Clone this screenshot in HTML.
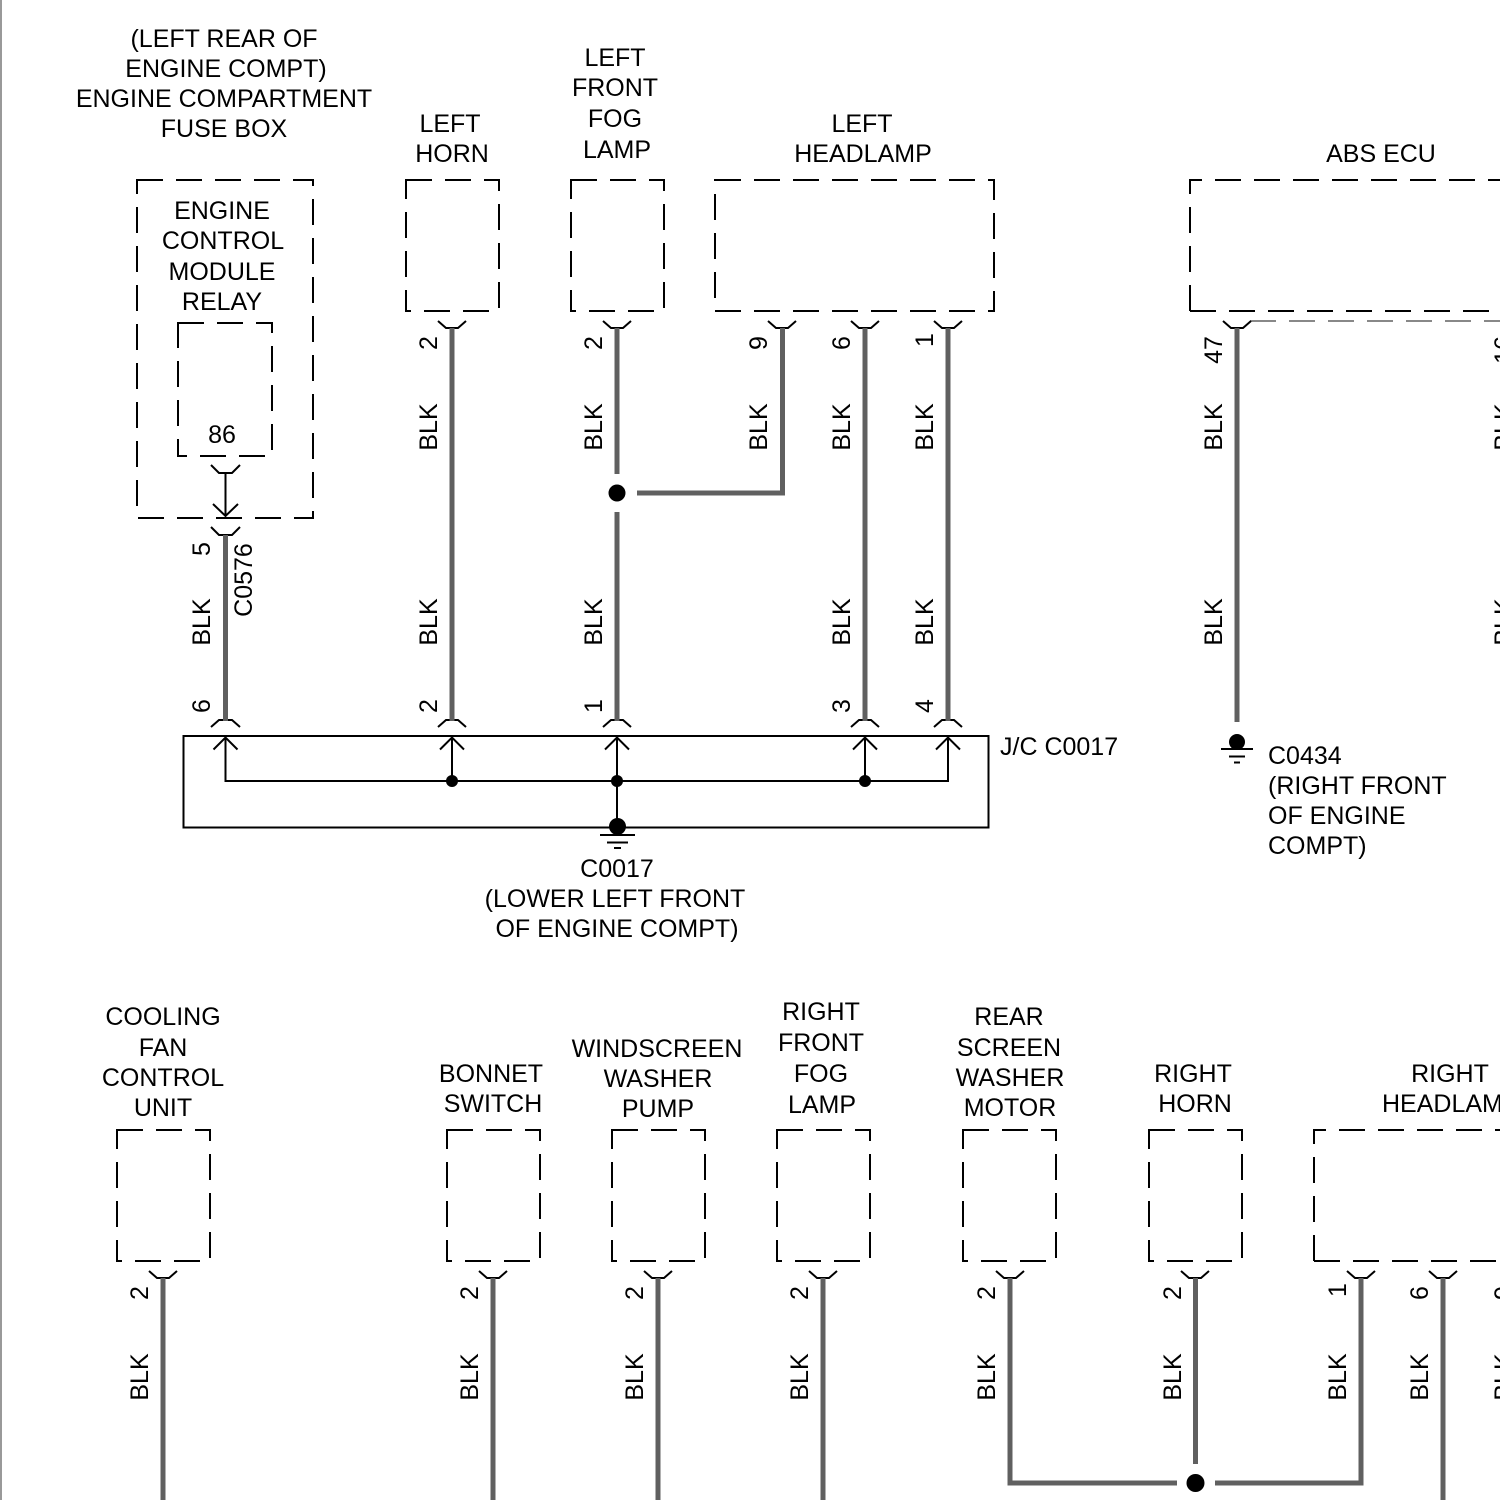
<!DOCTYPE html>
<html>
<head>
<meta charset="utf-8">
<style>
html,body{margin:0;padding:0;background:#fff;}
svg{display:block;}
text{font-family:"Liberation Sans",Arial,sans-serif;font-size:25px;fill:#000;text-anchor:middle;}
.l{text-anchor:start;}
.box{fill:none;stroke:#000;stroke-width:2;stroke-dasharray:26 13;}
.cup{fill:none;stroke:#000;stroke-width:2;}
.w{fill:none;stroke:#606060;stroke-width:5;}
.t{fill:none;stroke:#000;stroke-width:2;}
</style>
</head>
<body>
<svg width="1500" height="1500" viewBox="0 0 1500 1500" xmlns="http://www.w3.org/2000/svg">
<rect x="0" y="0" width="1500" height="1500" fill="#fff"/>
<line x1="1" y1="0" x2="1" y2="1500" stroke="#999" stroke-width="2"/>

<!-- ===== TOP ROW LABELS ===== -->
<text x="224" y="47">(LEFT REAR OF</text>
<text x="226" y="77">ENGINE COMPT)</text>
<text x="224" y="107">ENGINE COMPARTMENT</text>
<text x="224" y="137">FUSE BOX</text>

<text x="222" y="219">ENGINE</text>
<text x="223" y="249">CONTROL</text>
<text x="222" y="280">MODULE</text>
<text x="222" y="310">RELAY</text>
<text x="222" y="443">86</text>

<text x="450" y="132">LEFT</text>
<text x="452" y="162">HORN</text>

<text x="615" y="66">LEFT</text>
<text x="615" y="96">FRONT</text>
<text x="615" y="127">FOG</text>
<text x="617" y="158">LAMP</text>

<text x="862" y="132">LEFT</text>
<text x="863" y="162">HEADLAMP</text>

<text x="1381" y="162">ABS ECU</text>

<!-- boxes top -->
<path class="box" d="M137 180 H313 V518 H137 Z"/>
<path class="box" d="M178 323 H272 V456 H178 Z"/>
<path class="box" d="M406 180 H499 V311 H406 Z"/>
<path class="box" d="M571 180 H664 V311 H571 Z"/>
<path class="box" d="M715 180 H994 V311 H715 Z"/>
<path class="box" d="M1190 311 V180 H1510"/>
<path class="box" d="M1190 311 H1510"/>
<line x1="1250" y1="321" x2="1510" y2="321" stroke="#888" stroke-width="2" stroke-dasharray="26 13"/>

<!-- relay cups and arrow -->
<polyline class="cup" points="211,465 219,473 232,473 240,465"/>
<line class="t" x1="225.5" y1="473" x2="225.5" y2="515"/>
<polyline class="t" points="213,504 225.5,516 238,504"/>
<polyline class="cup" points="211,527 219,535 232,535 240,527"/>

<!-- top cups -->
<polyline class="cup" points="438,321 446,328 458,328 466,321"/>
<polyline class="cup" points="603,321 611,328 623,328 631,321"/>
<polyline class="cup" points="768,321 776,328 788,328 796,321"/>
<polyline class="cup" points="851,321 859,328 871,328 879,321"/>
<polyline class="cup" points="934,321 942,328 954,328 962,321"/>
<polyline class="cup" points="1223,321 1231,328 1243,328 1251,321"/>

<!-- J/C caps -->
<polyline class="cup" points="211,727 219,720 232,720 240,727"/>
<polyline class="cup" points="438,727 446,720 458,720 466,727"/>
<polyline class="cup" points="603,727 611,720 623,720 631,727"/>
<polyline class="cup" points="851,727 859,720 871,720 879,727"/>
<polyline class="cup" points="934,727 942,720 954,720 962,727"/>

<!-- top wires -->
<line class="w" x1="225.5" y1="535" x2="225.5" y2="721"/>
<line class="w" x1="452" y1="328" x2="452" y2="721"/>
<line class="w" x1="617" y1="328" x2="617" y2="474"/>
<line class="w" x1="617" y1="512" x2="617" y2="721"/>
<polyline class="w" points="637,493 782.5,493 782.5,328"/>
<line class="w" x1="865" y1="328" x2="865" y2="721"/>
<line class="w" x1="948" y1="328" x2="948" y2="721"/>
<line class="w" x1="1237" y1="328" x2="1237" y2="722"/>
<circle cx="617" cy="493" r="8.5" fill="#000"/>

<!-- J/C box -->
<rect x="183.5" y="736" width="805" height="91.5" fill="none" stroke="#000" stroke-width="2"/>
<polyline class="t" points="225.5,738 225.5,781 948,781 948,738"/>
<line class="t" x1="452" y1="738" x2="452" y2="781"/>
<line class="t" x1="617" y1="738" x2="617" y2="826"/>
<line class="t" x1="865" y1="738" x2="865" y2="781"/>
<polyline class="t" points="213.5,749.5 225.5,737.5 237.5,749.5"/>
<polyline class="t" points="440,749.5 452,737.5 464,749.5"/>
<polyline class="t" points="605,749.5 617,737.5 629,749.5"/>
<polyline class="t" points="853,749.5 865,737.5 877,749.5"/>
<polyline class="t" points="936,749.5 948,737.5 960,749.5"/>
<circle cx="452" cy="781" r="6" fill="#000"/>
<circle cx="617" cy="781" r="6" fill="#000"/>
<circle cx="865" cy="781" r="6" fill="#000"/>
<circle cx="617.5" cy="826.5" r="8.5" fill="#000"/>
<line x1="600" y1="835" x2="635" y2="835" stroke="#000" stroke-width="2"/>
<line x1="607" y1="842.5" x2="628" y2="842.5" stroke="#000" stroke-width="2"/>
<line x1="614" y1="848" x2="621" y2="848" stroke="#000" stroke-width="2"/>
<text class="l" x="1000" y="755">J/C C0017</text>
<text x="617" y="877">C0017</text>
<text x="615" y="907">(LOWER LEFT FRONT</text>
<text x="617" y="937">OF ENGINE COMPT)</text>

<!-- ABS ground -->
<circle cx="1237" cy="742" r="8" fill="#000"/>
<line x1="1221" y1="749" x2="1253" y2="749" stroke="#000" stroke-width="2"/>
<line x1="1229" y1="756.5" x2="1245" y2="756.5" stroke="#000" stroke-width="2"/>
<line x1="1234" y1="762.5" x2="1240" y2="762.5" stroke="#000" stroke-width="2"/>
<text class="l" x="1268" y="764">C0434</text>
<text class="l" x="1268" y="794">(RIGHT FRONT</text>
<text class="l" x="1268" y="824">OF ENGINE</text>
<text class="l" x="1268" y="854">COMPT)</text>

<!-- top rotated labels -->
<g transform="translate(201,549) rotate(-90)"><text y="9">5</text></g>
<g transform="translate(243,580) rotate(-90)"><text y="9">C0576</text></g>
<g transform="translate(201,622) rotate(-90)"><text y="9">BLK</text></g>
<g transform="translate(201,706) rotate(-90)"><text y="9">6</text></g>

<g transform="translate(428,343) rotate(-90)"><text y="9">2</text></g>
<g transform="translate(428,427) rotate(-90)"><text y="9">BLK</text></g>
<g transform="translate(428,622) rotate(-90)"><text y="9">BLK</text></g>
<g transform="translate(428,706) rotate(-90)"><text y="9">2</text></g>

<g transform="translate(593,343) rotate(-90)"><text y="9">2</text></g>
<g transform="translate(593,427) rotate(-90)"><text y="9">BLK</text></g>
<g transform="translate(593,622) rotate(-90)"><text y="9">BLK</text></g>
<g transform="translate(593,706) rotate(-90)"><text y="9">1</text></g>

<g transform="translate(758,343) rotate(-90)"><text y="9">9</text></g>
<g transform="translate(758,427) rotate(-90)"><text y="9">BLK</text></g>

<g transform="translate(841,343) rotate(-90)"><text y="9">6</text></g>
<g transform="translate(841,427) rotate(-90)"><text y="9">BLK</text></g>
<g transform="translate(841,622) rotate(-90)"><text y="9">BLK</text></g>
<g transform="translate(841,706) rotate(-90)"><text y="9">3</text></g>

<g transform="translate(924,340) rotate(-90)"><text y="9">1</text></g>
<g transform="translate(924,427) rotate(-90)"><text y="9">BLK</text></g>
<g transform="translate(924,622) rotate(-90)"><text y="9">BLK</text></g>
<g transform="translate(924,706) rotate(-90)"><text y="9">4</text></g>

<g transform="translate(1213,350) rotate(-90)"><text y="9">47</text></g>
<g transform="translate(1213,427) rotate(-90)"><text y="9">BLK</text></g>
<g transform="translate(1213,622) rotate(-90)"><text y="9">BLK</text></g>

<g transform="translate(1503,350) rotate(-90)"><text y="9">16</text></g>
<g transform="translate(1503,427) rotate(-90)"><text y="9">BLK</text></g>
<g transform="translate(1503,622) rotate(-90)"><text y="9">BLK</text></g>

<!-- ===== BOTTOM ROW ===== -->
<text x="163" y="1025">COOLING</text>
<text x="163" y="1056">FAN</text>
<text x="163" y="1086">CONTROL</text>
<text x="163" y="1116">UNIT</text>

<text x="491" y="1082">BONNET</text>
<text x="493" y="1112">SWITCH</text>

<text x="657" y="1057">WINDSCREEN</text>
<text x="658" y="1087">WASHER</text>
<text x="658" y="1117">PUMP</text>

<text x="821" y="1020">RIGHT</text>
<text x="821" y="1051">FRONT</text>
<text x="821" y="1082">FOG</text>
<text x="822" y="1113">LAMP</text>

<text x="1009" y="1025">REAR</text>
<text x="1009" y="1056">SCREEN</text>
<text x="1010" y="1086">WASHER</text>
<text x="1010" y="1116">MOTOR</text>

<text x="1193" y="1082">RIGHT</text>
<text x="1195" y="1112">HORN</text>

<text x="1450" y="1082">RIGHT</text>
<text class="l" x="1382" y="1112">HEADLAMP</text>

<path class="box" d="M117 1130 H210 V1261 H117 Z"/>
<path class="box" d="M447 1130 H540 V1261 H447 Z"/>
<path class="box" d="M612 1130 H705 V1261 H612 Z"/>
<path class="box" d="M777 1130 H870 V1261 H777 Z"/>
<path class="box" d="M963 1130 H1056 V1261 H963 Z"/>
<path class="box" d="M1149 1130 H1242 V1261 H1149 Z"/>
<path class="box" d="M1314 1261 V1130 H1510"/>
<path class="box" d="M1314 1261 H1510"/>

<polyline class="cup" points="149,1271 157,1278 169,1278 177,1271"/>
<polyline class="cup" points="479,1271 487,1278 499,1278 507,1271"/>
<polyline class="cup" points="644,1271 652,1278 664,1278 672,1271"/>
<polyline class="cup" points="809,1271 817,1278 829,1278 837,1271"/>
<polyline class="cup" points="996,1271 1004,1278 1016,1278 1024,1271"/>
<polyline class="cup" points="1181,1271 1189,1278 1201,1278 1209,1271"/>
<polyline class="cup" points="1347,1271 1355,1278 1367,1278 1375,1271"/>
<polyline class="cup" points="1429,1271 1437,1278 1449,1278 1457,1271"/>

<line class="w" x1="163" y1="1278" x2="163" y2="1500"/>
<line class="w" x1="493" y1="1278" x2="493" y2="1500"/>
<line class="w" x1="658" y1="1278" x2="658" y2="1500"/>
<line class="w" x1="823" y1="1278" x2="823" y2="1500"/>
<polyline class="w" points="1010,1278 1010,1483 1177,1483"/>
<line class="w" x1="1195.5" y1="1278" x2="1195.5" y2="1464"/>
<polyline class="w" points="1215,1483 1361,1483 1361,1278"/>
<line class="w" x1="1443" y1="1278" x2="1443" y2="1500"/>
<circle cx="1195.5" cy="1483" r="9" fill="#000"/>

<g transform="translate(139,1293) rotate(-90)"><text y="9">2</text></g>
<g transform="translate(139,1377) rotate(-90)"><text y="9">BLK</text></g>
<g transform="translate(469,1293) rotate(-90)"><text y="9">2</text></g>
<g transform="translate(469,1377) rotate(-90)"><text y="9">BLK</text></g>
<g transform="translate(634,1293) rotate(-90)"><text y="9">2</text></g>
<g transform="translate(634,1377) rotate(-90)"><text y="9">BLK</text></g>
<g transform="translate(799,1293) rotate(-90)"><text y="9">2</text></g>
<g transform="translate(799,1377) rotate(-90)"><text y="9">BLK</text></g>
<g transform="translate(986,1293) rotate(-90)"><text y="9">2</text></g>
<g transform="translate(986,1377) rotate(-90)"><text y="9">BLK</text></g>
<g transform="translate(1172,1293) rotate(-90)"><text y="9">2</text></g>
<g transform="translate(1172,1377) rotate(-90)"><text y="9">BLK</text></g>
<g transform="translate(1337,1290) rotate(-90)"><text y="9">1</text></g>
<g transform="translate(1337,1377) rotate(-90)"><text y="9">BLK</text></g>
<g transform="translate(1419,1293) rotate(-90)"><text y="9">6</text></g>
<g transform="translate(1419,1377) rotate(-90)"><text y="9">BLK</text></g>
<g transform="translate(1503,1293) rotate(-90)"><text y="9">9</text></g>
<g transform="translate(1503,1377) rotate(-90)"><text y="9">BLK</text></g>
</svg>
</body>
</html>
